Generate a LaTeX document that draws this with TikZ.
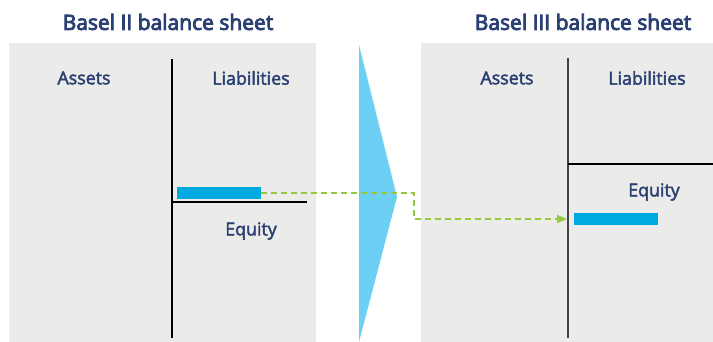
\documentclass[tikz,border=0pt]{standalone}
\usepackage{fontspec}
\setmainfont{Open Sans}
\newfontfamily\labelfont{Open Sans}[FakeBold=2.5]
\newfontfamily\titlefont{Open Sans}[FakeBold=4]
\usetikzlibrary{arrows.meta}
\definecolor{boxgray}{HTML}{EBEBEA}
\definecolor{barblue}{HTML}{00A9E0}
\definecolor{triblue}{HTML}{6DCFF3}
\definecolor{dashgreen}{HTML}{95C83D}
\definecolor{txtblue}{HTML}{2B4072}
\definecolor{rulegray}{HTML}{444444}
\tikzset{
  sheet/.style={fill=boxgray, draw=none},
  title/.style={text=txtblue, font=\fontsize{21}{25}\selectfont\titlefont, inner sep=0pt},
  lbl/.style={text=txtblue, font=\fontsize{17.8}{21}\selectfont\labelfont, inner sep=0pt},
  bar/.style={fill=barblue, draw=none, minimum width=84pt, minimum height=12pt, inner sep=0pt},
  rule/.style={draw=black, line width=1.3pt},
  flow/.style={draw=dashgreen, line width=1.3pt, dash pattern=on 6pt off 4pt, -{Triangle[length=10pt,width=8pt]}}
}
\begin{document}
\begin{tikzpicture}[x=1pt,y=-1pt]
\useasboundingbox (0,0) rectangle (713,342);
% sheets
\path[sheet] (9,43) rectangle (316,342);
\path[sheet] (421,43) rectangle (713,342);
% triangle
\fill[triblue] (359,45) -- (397,197) -- (359,342) -- cycle;
% titles
\node[title] (t1) at (168,22) {Basel II balance sheet};
\node[title] (t2) at (583,22) {Basel III balance sheet};
% labels left
\node[lbl] (a1) at (84,78) {Assets};
\node[lbl] (l1) at (251,78) {Liabilities};
\node[lbl] (e1) at (251,231) {Equity};
% labels right
\node[lbl] (a2) at (507,78) {Assets};
\node[lbl] (l2) at (647,78) {Liabilities};
\node[lbl] (e2) at (654,192) {Equity};
% rules
\coordinate (v1t) at (172,59);
\coordinate (v1b) at (172,338);
\coordinate (h1l) at (172,202);
\coordinate (h1r) at (307,202);
\draw[rule] (v1t) -- (v1b);
\draw[rule] (h1l) -- (h1r);
\coordinate (v2t) at (568,58);
\coordinate (v2b) at (568,338);
\coordinate (h2l) at (568,164);
\coordinate (h2r) at (713,164);
\draw[rule, draw=rulegray] (v2t) -- (v2b);
\draw[rule] (h2l) -- (h2r);
% bars
\node[bar] (b1) at (219,193) {};
\node[bar] (b2) at (616,219) {};
% connector
\coordinate (k) at (414,193);
\draw[flow] (b1.east) -- (k) |- ([xshift=-1pt]b2.west -| v2t);
\end{tikzpicture}
\end{document}
